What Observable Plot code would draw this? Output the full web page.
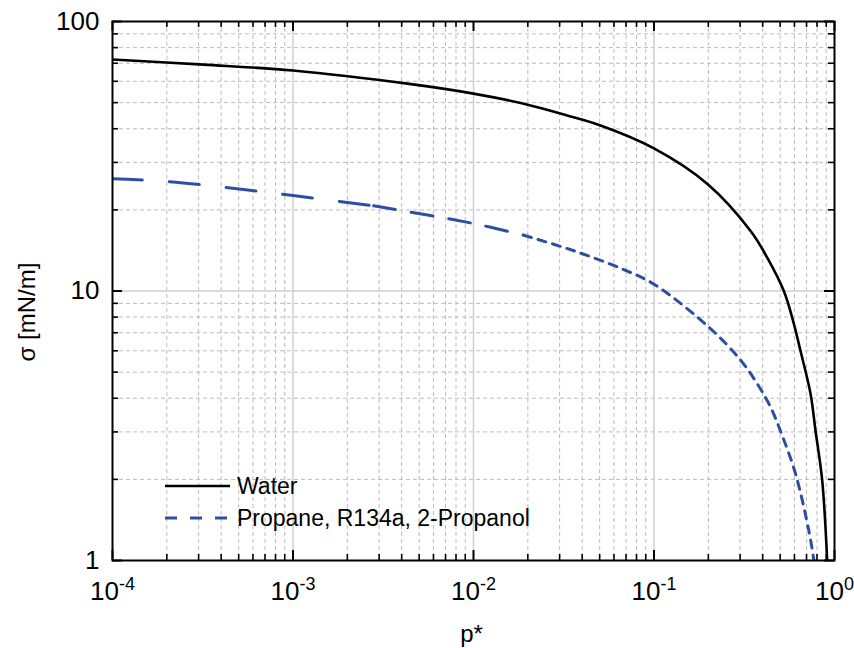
<!DOCTYPE html>
<html><head><meta charset="utf-8">
<script src="https://cdn.jsdelivr.net/npm/d3@7"></script>
<script src="https://cdn.jsdelivr.net/npm/@observablehq/plot@0.6"></script>
<style>
body{margin:0;background:#fff;font-family:"Liberation Sans",Arial,sans-serif}
</style>
</head><body><div id="chart"></div>
<script>
// ---- data ----
const seriesNames = ["Water", "Propane, R134a, 2-Propanol"];
const waterP = [1e-4, 3.2e-4, 1e-3, 4.3e-3, 1e-2, 1.9e-2, 3.3e-2, 5.06e-2, 0.1, 0.197, 0.343, 0.424, 0.524, 0.589, 0.648, 0.736, 0.785, 0.855, 0.911];
const waterSigma = [72.3, 69.2, 65.8, 58.8, 54.0, 49.5, 44.8, 41.1, 33.8, 25.0, 16.7, 13.3, 10.0, 7.77, 6.0, 4.17, 3.03, 1.98, 1.0];
const mixP = [1e-4, 2e-4, 4.5e-4, 1e-3, 2.8e-3, 1e-2, 1.9e-2, 3.6e-2, 6.8e-2, 0.1, 0.206, 0.301, 0.373, 0.442, 0.513, 0.608, 0.721, 0.769];
const mixSigma = [26.1, 25.5, 24.1, 22.6, 20.7, 17.8, 16.1, 14.1, 12.0, 10.6, 7.24, 5.55, 4.53, 3.71, 2.91, 2.10, 1.29, 1.0];
const xMajorTicks = [1e-4, 1e-3, 1e-2, 1e-1, 1];
const yMajorTicks = [1, 10, 100];
const minorMultipliers = [2, 3, 4, 5, 6, 7, 8, 9];
const xLabel = "p*";
const yLabel = "σ [mN/m]";

// ---- derived tables ----
const water = waterP.map((p, i) => ({p, sigma: waterSigma[i]}));
const mix = mixP.map((p, i) => ({p, sigma: mixSigma[i]}));
const minorOf = (majors) => majors.slice(0, -1).flatMap(m => minorMultipliers.map(k => m * k));
const xMinor = minorOf(xMajorTicks);
const yMinor = minorOf(yMajorTicks);
const xInner = xMajorTicks.slice(1, -1);
const yInner = yMajorTicks.slice(1, -1);

const W = 854, H = 648, ml = 112, mr = 20, mt = 21, mb = 88;
const pw = W - ml - mr, ph = H - mt - mb;
const font = '"Liberation Sans", Arial, sans-serif';
const blue = "#2d4fa3";
const majorLen = 10, minorLen = 6;
const curve = "catmull-rom";

const chart = Plot.plot({
  width: W, height: H,
  marginLeft: ml, marginRight: mr, marginTop: mt, marginBottom: mb,
  style: {fontFamily: font, fontSize: "24px", color: "black", background: "white", overflow: "visible"},
  x: {type: "log", domain: [1e-4, 1]},
  y: {type: "log", domain: [1, 100]},
  marks: [
    // grid
    Plot.ruleX(xMinor, {x: d => d, stroke: "#bcbcbc", strokeWidth: 1, strokeDasharray: "4,3"}),
    Plot.ruleY(yMinor, {y: d => d, stroke: "#bcbcbc", strokeWidth: 1, strokeDasharray: "4,3"}),
    Plot.ruleX(xInner, {x: d => d, stroke: "#cfcfcf", strokeWidth: 1.5}),
    Plot.ruleY(yInner, {y: d => d, stroke: "#cfcfcf", strokeWidth: 1.5}),
    // data
    Plot.line(water, {x: "p", y: "sigma", stroke: "black", strokeWidth: 2.6, curve, clip: true}),
    Plot.line(mix, {filter: d => d.p <= 2.8e-3, x: "p", y: "sigma", stroke: blue, strokeWidth: 3, strokeDasharray: "30,27", curve, clip: true}),
    Plot.line(mix, {filter: d => d.p >= 2.8e-3 && d.p <= 1.9e-2, x: "p", y: "sigma", stroke: blue, strokeWidth: 3, strokeDasharray: "22,16", curve, clip: true}),
    Plot.line(mix, {filter: d => d.p >= 1.9e-2, x: "p", y: "sigma", stroke: blue, strokeWidth: 3, strokeDasharray: "8,7", curve, clip: true}),
    // inward ticks, all four sides
    Plot.ruleX(xMajorTicks, {x: d => d, insetTop: ph - majorLen, stroke: "black", strokeWidth: 2}),
    Plot.ruleX(xMajorTicks, {x: d => d, insetBottom: ph - majorLen, stroke: "black", strokeWidth: 2}),
    Plot.ruleX(xMinor, {x: d => d, insetTop: ph - minorLen, stroke: "black", strokeWidth: 1.6}),
    Plot.ruleX(xMinor, {x: d => d, insetBottom: ph - minorLen, stroke: "black", strokeWidth: 1.6}),
    Plot.ruleY(yMajorTicks, {y: d => d, insetRight: pw - majorLen, stroke: "black", strokeWidth: 2}),
    Plot.ruleY(yMajorTicks, {y: d => d, insetLeft: pw - majorLen, stroke: "black", strokeWidth: 2}),
    Plot.ruleY(yMinor, {y: d => d, insetRight: pw - minorLen, stroke: "black", strokeWidth: 1.6}),
    Plot.ruleY(yMinor, {y: d => d, insetLeft: pw - minorLen, stroke: "black", strokeWidth: 1.6}),
    Plot.frame({stroke: "black", strokeWidth: 2}),
    // axes
    Plot.axisX(xMajorTicks, {tickSize: 0, tickPadding: 21, fontSize: 26, label: null,
      tickFormat: d => "10^" + Math.round(Math.log10(d))}),
    Plot.axisY(yMajorTicks, {tickSize: 0, tickPadding: 13, fontSize: 26, label: null,
      tickFormat: d => String(d)}),
    Plot.text([xLabel], {frameAnchor: "bottom", dy: 74, dx: -2, fontSize: 24, textAnchor: "middle", lineAnchor: "middle"}),
    Plot.text([yLabel], {frameAnchor: "left", rotate: -90, dx: -85, dy: 21, fontSize: 24, textAnchor: "middle", lineAnchor: "middle"})
  ]
});

document.getElementById("chart").appendChild(chart);

const svg = d3.select(chart);
svg.selectAll('g[aria-label="x-axis tick label"], g[aria-label="y-axis tick label"]')
  .attr("font-size", 26).style("font-size", "26px");

// superscript exponents on x tick labels
svg.selectAll('g[aria-label="x-axis tick label"] text').each(function () {
  const t = this.textContent;
  if (!t.includes("^")) return;
  const [base, exp] = t.split("^");
  const sel = d3.select(this);
  sel.text(null);
  sel.append("tspan").text(base);
  sel.append("tspan").attr("dy", "-0.55em").style("font-size", "18px").text(exp);
});

// legend inside the plot area
const legendItems = [
  {name: seriesNames[0], stroke: "black", width: 2.6, dash: null, y: 486},
  {name: seriesNames[1], stroke: blue, width: 3, dash: "12,13", y: 518}
];
const lg = svg.append("g").attr("aria-label", "legend").attr("text-anchor", "start");
legendItems.forEach(it => {
  lg.append("line").attr("x1", 165).attr("x2", 230).attr("y1", it.y).attr("y2", it.y)
    .attr("stroke", it.stroke).attr("stroke-width", it.width)
    .attr("stroke-dasharray", it.dash);
  lg.append("text").attr("x", 237).attr("y", it.y).attr("dy", "0.36em")
    .attr("text-anchor", "start")
    .attr("font-size", 23).attr("font-family", font).attr("fill", "black").text(it.name);
});
</script>
</body></html>
